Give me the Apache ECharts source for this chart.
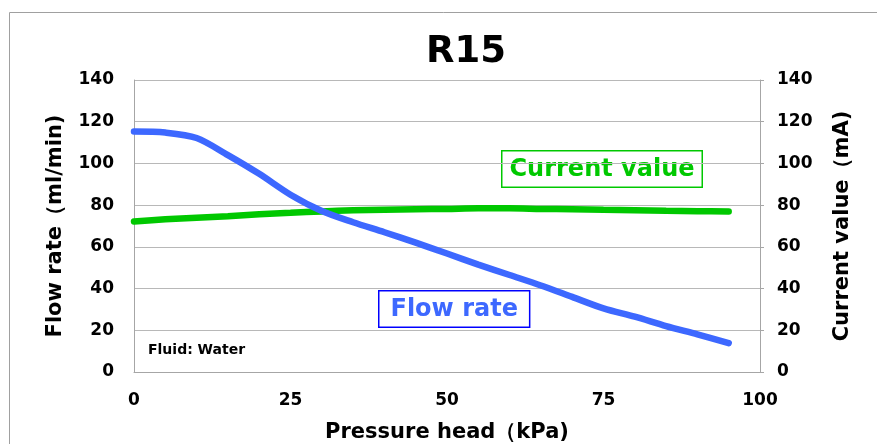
<!DOCTYPE html>
<html>
<head>
<meta charset="utf-8">
<script src="https://cdn.jsdelivr.net/npm/echarts@6/dist/echarts.min.js"></script>
<style>
  html, body { margin: 0; padding: 0; background: #fff; }
  #chart { width: 877px; height: 444px; }
</style>
</head>
<body>
<div id="chart"></div>
<script>
// pressure head (kPa)
var pressure = [0, 5, 10, 15, 20, 25, 30, 35, 40, 45, 50, 55, 60, 65, 70, 75, 80, 85, 90, 95];
// flow rate (ml/min)
var flowRate = [115.3, 114.8, 112.2, 104, 95, 85, 77.2, 71.8, 67, 62, 56.8, 51.5, 46.5, 41.5, 36, 30.5, 26.5, 22, 18, 13.8];
// current value (mA)
var currentValue = [72.2, 73.2, 74, 74.7, 75.6, 76.3, 77, 77.5, 77.8, 78, 78.2, 78.5, 78.5, 78.2, 78, 77.8, 77.6, 77.3, 77.1, 77];

var chart = echarts.init(document.getElementById('chart'))

function pairs(ys) {
    return pressure.map(function (x, i) { return [x, ys[i]] })
}

var tickFont = { color: '#000', fontFamily: 'DejaVu Sans', fontWeight: 'bold', fontSize: 17 }
var nameFont = { fontFamily: 'DejaVu Sans', fontWeight: 'bold', fontSize: 21, color: '#000' }

var option = {
    animation: false,
    title: {
        text: 'R15',
        left: 461,
        top: 29,
        textAlign: 'center',
        textStyle: { fontFamily: 'DejaVu Sans', fontWeight: 'bold', fontSize: 37, color: '#000' }
    },
    grid: { left: 134, right: 117, top: 80, bottom: 72, outerBoundsMode: 'none', containLabel: false },
    xAxis: {
        type: 'value',
        min: 0,
        max: 100,
        interval: 25,
        name: 'Pressure head（kPa)',
        nameLocation: 'middle',
        nameGap: 50,
        nameTextStyle: nameFont,
        axisLine: { show: true, lineStyle: { color: '#a6a6a6' } },
        axisTick: { show: false },
        splitLine: { show: false },
        axisLabel: Object.assign({ margin: 20 }, tickFont)
    },
    yAxis: [
        {
            type: 'value',
            min: 0,
            max: 140,
            interval: 20,
            name: 'Flow rate（ml/min)',
            nameLocation: 'middle',
            nameGap: 68,
            nameTextStyle: nameFont,
            axisLine: { show: true, lineStyle: { color: '#a6a6a6' } },
            axisTick: { show: false },
            splitLine: { show: true, lineStyle: { color: '#b8b8b8' } },
            axisLabel: Object.assign({ margin: 20 }, tickFont)
        },
        {
            type: 'value',
            min: 0,
            max: 140,
            interval: 20,
            position: 'right',
            name: 'Current value（mA)',
            nameLocation: 'middle',
            nameGap: 72,
            nameRotate: 90,
            nameTextStyle: nameFont,
            axisLine: { show: true, lineStyle: { color: '#a6a6a6' } },
            axisTick: { show: true, length: 4, lineStyle: { color: '#a6a6a6' } },
            splitLine: { show: false },
            axisLabel: Object.assign({ margin: 17 }, tickFont)
        }
    ],
    series: [
        {
            name: 'Current value',
            type: 'line',
            yAxisIndex: 1,
            data: pairs(currentValue),
            smooth: 0.3,
            symbol: 'none',
            lineStyle: { color: '#00c800', width: 6.5, cap: 'round' }
        },
        {
            name: 'Flow rate',
            type: 'line',
            yAxisIndex: 0,
            data: pairs(flowRate),
            smooth: 0.3,
            symbol: 'none',
            lineStyle: { color: '#3d68ff', width: 6.5, cap: 'round' }
        }
    ],
    graphic: [
        {
            type: 'rect',
            shape: { x: 9.5, y: 12.5, width: 900, height: 500 },
            style: { fill: 'none', stroke: '#a0a0a0', lineWidth: 1 },
            silent: true
        },
        {
            type: 'text',
            left: 501,
            top: 150,
            style: {
                text: 'Current value',
                fill: '#00c800',
                font: 'bold 24px "DejaVu Sans"',
                backgroundColor: '#fff',
                borderColor: '#00c800',
                borderWidth: 1.5,
                padding: [6, 7, 5, 7]
            }
        },
        {
            type: 'text',
            left: 378,
            top: 290,
            style: {
                text: 'Flow rate',
                fill: '#3d68ff',
                font: 'bold 24px "DejaVu Sans"',
                backgroundColor: '#fff',
                borderColor: '#0000ff',
                borderWidth: 1.5,
                padding: [6, 11, 5, 11]
            }
        },
        {
            type: 'text',
            left: 148,
            top: 343,
            style: {
                text: 'Fluid: Water',
                fill: '#000',
                font: 'bold 14px "DejaVu Sans"'
            }
        }
    ]
}

chart.setOption(option)
</script>
</body>
</html>
